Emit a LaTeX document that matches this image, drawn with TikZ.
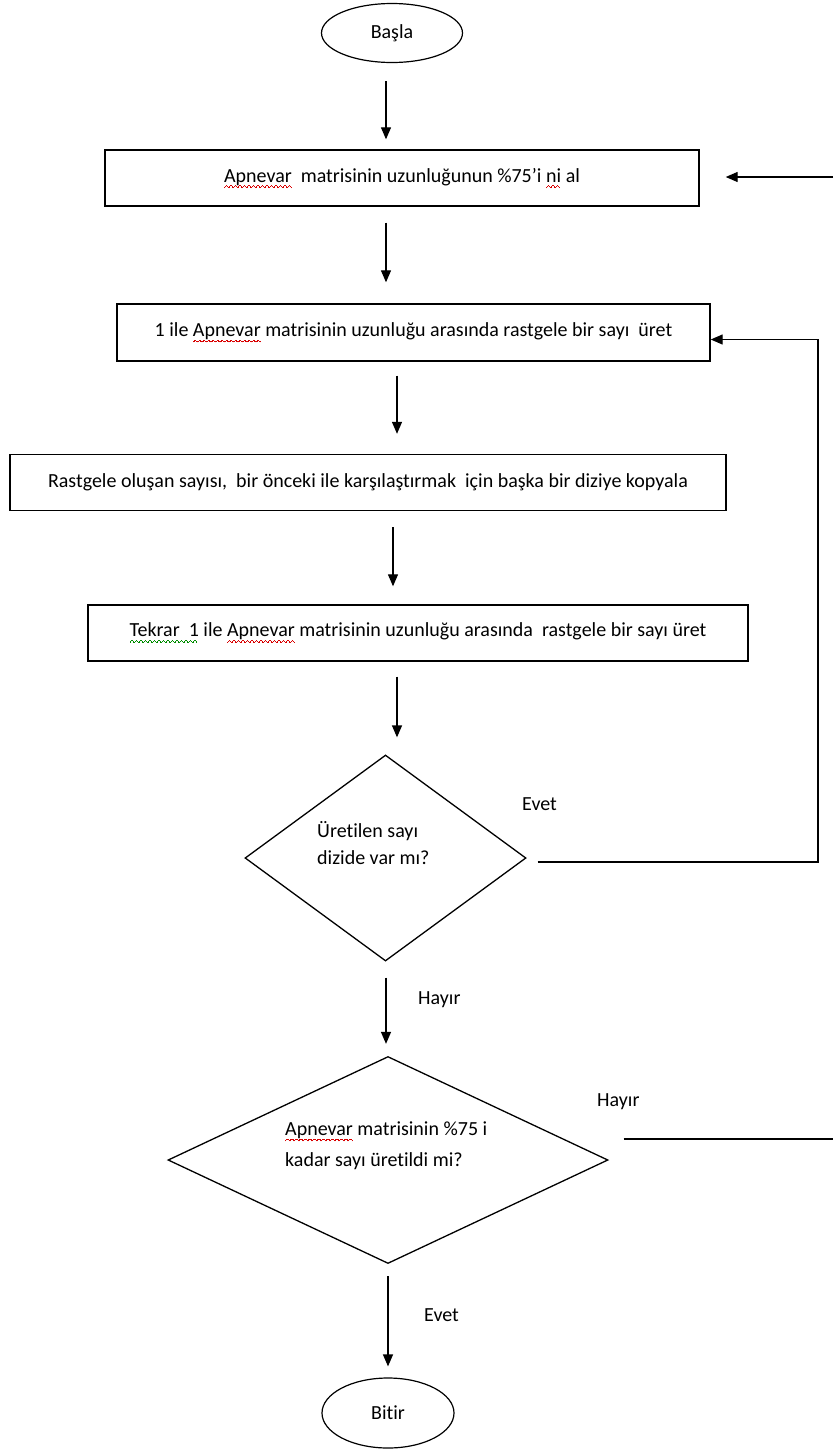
\documentclass[tikz,border=0pt]{standalone}
\usepackage{fontspec}
\setmainfont{Carlito}[Ligatures=NoCommon]
\usetikzlibrary{shapes.geometric,arrows.meta,calc}
\newsavebox\spellbox
\newcommand\waveunit{\hbox{%
  \rule[-6pt]{0.75pt}{1pt}\rule[-5.2pt]{0.75pt}{1pt}\rule[-4.4pt]{0.75pt}{1pt}%
  \rule[-4.4pt]{0.75pt}{1pt}\rule[-5.2pt]{0.75pt}{1pt}\rule[-6pt]{0.75pt}{1pt}}}
\newcommand\spellmark[2]{%
  \sbox\spellbox{#2}%
  \rlap{\color{#1}\hbox to \wd\spellbox{\leaders\waveunit\hfill}}%
  \usebox\spellbox}
\colorlet{spellred}{red!85!black}
\colorlet{spellgreen}{green!55!black}
\begin{document}
\begin{tikzpicture}[x=1pt,y=-1pt,
  font=\fontsize{20}{27}\selectfont,
  every node/.style={inner sep=0pt},
  procbox/.style={draw, line width=1.4pt, minimum height=56pt, align=center},
  term/.style={draw, ellipse, line width=1.2pt},
  decis/.style={draw, diamond, line width=1.3pt},
  arr/.style={line width=1.3pt, -{Triangle[length=12pt,width=10pt]}},
  conn/.style={line width=1.3pt},
  lbl/.style={anchor=west},
  dtext/.style={anchor=west, align=left}
]
\useasboundingbox[fill=white] (0,0) rectangle (833,1449);

% nodes
\node[term, minimum width=141pt, minimum height=59pt] (basla) at (392,33) {Başla};
\node[procbox, minimum width=594pt] (box1) at (402,178) {\spellmark{spellred}{Apnevar}\ \ matrisinin uzunluğunun \%75’i \spellmark{spellred}{ni} al};
\node[procbox, minimum width=593pt, minimum height=57pt] (box2) at (413.5,332.5) {1 ile \spellmark{spellred}{Apnevar} matrisinin uzunluğu arasında rastgele bir sayı\ \ üret};
\node[procbox, minimum width=716pt] (box3) at (368,482.5) {Rastgele oluşan sayısı,\ \ bir önceki ile karşılaştırmak\ \ için başka bir diziye kopyala};
\node[procbox, minimum width=660pt] (box4) at (418,633) {\spellmark{spellgreen}{Tekrar\ \ 1} ile \spellmark{spellred}{Apnevar} matrisinin uzunluğu arasında\ \ rastgele bir sayı üret};
\node[decis, minimum width=281pt, minimum height=206pt] (d1) at (385.5,858) {};
\node[dtext] (d1t) at (317,843.5) {Üretilen sayı\\dizide var mı?};
\node[decis, minimum width=440pt, minimum height=207pt] (d2) at (388,1160) {};
\node[dtext, font=\fontsize{20}{31}\selectfont] (d2t) at (285,1145.5) {\spellmark{spellred}{Apnevar} matrisinin \%75 i\\kadar sayı üretildi mi?};
\node[term, minimum width=132pt, minimum height=70pt] (bitir) at (388,1413) {Bitir};

% labels
\node[lbl] (evet1) at (522,804) {Evet};
\node[lbl] (hayir1) at (418,1000) {Hayır};
\node[lbl] (hayir2) at (597,1102) {Hayır};
\node[lbl] (evet2) at (424,1315) {Evet};

% free ends
\coordinate (topin) at (833,177);
\coordinate (loopc) at (818,862);
\coordinate (hayout) at (833,1139);

% connectors
\draw[arr] ($(basla.south)+(-6,18)$) -- ($(box1.north)+(-16,-10)$);
\draw[arr] ($(box1.south)+(-16,16)$) -- ($(box2.north)+(-27.5,-21)$);
\draw[arr] ($(box2.south)+(-16.5,14)$) -- ($(box3.north)+(29,-20)$);
\draw[arr] ($(box3.south)+(25,16)$) -- ($(box4.north)+(-25,-18)$);
\draw[arr] ($(box4.south)+(-21,15)$) -- ($(d1.north)+(11.5,-17)$);
\draw[arr] ($(d1.south)+(0.5,16)$) -- ($(d2.north)+(-2,-12)$);
\draw[arr] ($(d2.south)+(0,12)$) -- ($(bitir.north)+(0,-11)$);
\draw[arr] ($(d1.east)+(11,4)$) -- (loopc) |- ($(box2.east)+(0,7)$);
\draw[arr] (topin) -- ($(box1.east)+(26,-1)$);
\draw[conn] ($(d2.east)+(15,-21)$) -- (hayout);
\end{tikzpicture}
\end{document}
